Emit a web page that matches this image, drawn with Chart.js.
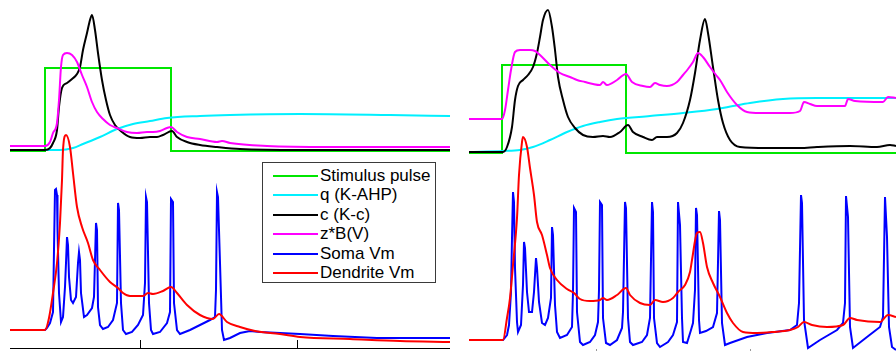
<!DOCTYPE html>
<html>
<head>
<meta charset="utf-8">
<script src="https://cdn.jsdelivr.net/npm/chart.js@4/dist/chart.umd.min.js"></script>
<style>
  html, body { margin: 0; padding: 0; background: #fff; }
  #wrap { position: relative; width: 896px; height: 351px; overflow: hidden; }
  #c { position: absolute; left: 0; top: 0; }
  #legend { position: absolute; left: 262px; top: 162px; width: 172px; height: 119px;
            border: 1px solid #3a3a3a; background: #fff; box-sizing: content-box;
            font-family: "Liberation Sans", Arial, sans-serif; font-size: 17px; color: #000; }
  .row { position: absolute; left: 0; height: 20px; line-height: 20px; white-space: nowrap; }
  .sw { position: absolute; left: 10px; top: 9px; width: 45px; height: 2px; }
  .tx { position: absolute; left: 57px; top: 0; }
</style>
</head>
<body>
<div id="wrap">
  <canvas id="c" width="896" height="351"></canvas>
  <div id="legend"></div>
</div>
<script>
// Series names (legend order)
const seriesNames = ["Stimulus pulse", "q (K-AHP)", "c (K-c)", "z*B(V)", "Soma Vm", "Dendrite Vm"];
const seriesColors = ["#00e600", "#00f0ff", "#000000", "#ff00ff", "#0000ff", "#ff0000"];

// Values: [time, level] (level axis runs downward, two stacked traces per panel)
// ---- Left panel (shorter stimulus) ----
const leftStim = [[10,151],[45,151],[45,68],[171,68],[171,151],[450,151]];
const leftQ = [[10,150],[47,150],[60,150],[73,148],[83,144],[100,137],[117,129],[133,124],[150,121],[167,118],[200,116],[230,115],[300,114],[390,115],[450,116]];
const leftC = [[10,150],[45,150],[50,148],[53,143],[57,130],[59,107],[62,88],[67,83],[72,79],[77,74],[80,67],[83,50],[87,33],[90,20],[92,15],[95,30],[98,53],[102,80],[106,100],[110,115],[115,125],[122,132],[130,137],[140,138],[150,137],[157,137],[163,135],[172,131],[177,137],[187,142],[200,145],[217,147],[240,149],[300,150],[450,150]];
const leftZ = [[10,146],[45,146],[50,142],[53,133],[57,123],[59,100],[61,67],[63,55],[67,53],[72,55],[77,62],[82,75],[87,87],[92,102],[97,112],[103,119],[110,125],[117,128],[127,132],[137,133],[147,132],[153,132],[160,131],[167,128],[171,127],[177,132],[187,137],[200,139],[217,142],[222,141],[230,143],[267,146],[330,147],[450,147]];
const leftSoma = [[10,330],[45,330],[47,328],[50,323],[53,312],[54,250],[55,190],[56,189],[57,195],[57.5,230],[59,293],[61,322],[63,317],[65,287],[66,263],[67,237],[68,245],[69,277],[71,300],[73,303],[76,297],[78,263],[79,252],[80,260],[81,293],[84,317],[87,315],[92,308],[94,297],[95,260],[96,223],[97,230],[98,307],[100,325],[103,329],[108,327],[113,320],[117,303],[118,203],[119,210],[121,303],[123,330],[126,334],[132,332],[138,325],[143,315],[145,283],[146,197],[147,202],[149,303],[151,330],[153,334],[160,332],[167,323],[170,312],[171,199],[173,202],[174,303],[177,330],[180,334],[190,330],[200,325],[210,320],[215,317],[216,290],[217,192],[218,197],[220,263],[222,330],[224,340],[230,338],[240,333],[250,331],[260,332],[280,333],[300,334],[333,336],[377,338],[450,338]];
const leftDend = [[10,330],[45,330],[49,318],[53,293],[57,263],[60,223],[62,180],[63,150],[66,135],[70,147],[73,173],[77,207],[82,227],[88,243],[93,260],[100,270],[110,282],[118,288],[123,293],[130,296],[143,296],[148,293],[153,294],[163,291],[171,287],[177,293],[187,305],[200,315],[213,319],[219,314],[227,322],[240,327],[255,331],[280,334],[300,337],[350,339],[400,341],[450,342]];

// ---- Right panel (longer stimulus) ----
const rightStim = [[469,153],[502,153],[502,65],[626,65],[626,153],[896,153]];
const rightQ = [[469,152],[503,151],[520,150],[533,147],[550,140],[567,132],[583,126],[600,122],[617,119],[650,116],[683,113],[717,109],[733,106],[750,103],[783,99],[817,98],[896,98]];
const rightC = [[469,152],[503,152],[507,147],[512,127],[515,100],[518,86],[523,80],[528,75],[533,67],[537,53],[540,37],[543,20],[548,10],[552,27],[555,50],[558,77],[563,100],[568,117],[575,128],[583,135],[593,137],[603,136],[610,137],[620,132],[628,125],[633,132],[643,137],[652,140],[657,137],[667,137],[677,133],[683,123],[690,100],[695,73],[700,40],[705,19],[708,33],[713,67],[718,100],[723,123],[730,140],[740,147],[767,148],[800,148],[817,147],[850,146],[877,147],[890,145],[896,146]];
const rightZ = [[469,119],[502,119],[505,110],[508,90],[511,70],[515,52],[520,50],[530,50],[535,51],[540,55],[550,65],[560,73],[570,77],[577,80],[585,82],[593,84],[600,85],[603,82],[607,85],[617,80],[626,74],[632,82],[643,86],[650,87],[655,83],[660,85],[667,86],[677,82],[683,75],[688,69],[693,62],[698,53],[703,57],[710,67],[716,75],[720,80],[727,92],[737,105],[747,112],[760,113],[790,113],[800,111],[804,102],[810,104],[817,106],[845,106],[848,99],[855,101],[883,102],[888,97],[896,98]];
const rightSoma = [[469,340],[503,340],[507,335],[509,325],[511,292],[512,238],[513,192],[514,202],[515,268],[517,322],[518,332],[521,325],[523,285],[524,242],[525,248],[527,292],[529,312],[532,312],[534,292],[536,258],[537,268],[539,302],[542,323],[545,325],[548,318],[551,298],[552,227],[553,235],[555,305],[557,332],[560,338],[567,335],[572,327],[573,292],[574,208],[576,212],[577,312],[580,342],[583,345],[590,342],[595,335],[598,322],[599,290],[600,202],[602,205],[603,318],[606,343],[610,345],[617,340],[622,328],[623,312],[625,202],[626,208],[628,318],[630,342],[633,345],[642,342],[647,335],[650,318],[652,202],[653,212],[654,318],[657,343],[660,347],[668,342],[673,335],[677,322],[678,202],[680,225],[682,318],[683,342],[687,343],[691,330],[693,323],[695,290],[696,208],[697,215],[699,320],[700,333],[706,331],[713,327],[717,313],[719,211],[720,220],[722,323],[725,345],[730,343],[747,337],[767,333],[790,330],[797,325],[799,303],[801,195],[802,203],[804,320],[808,348],[820,340],[837,330],[843,323],[845,303],[846,196],[848,217],[850,327],[853,348],[867,337],[880,327],[883,317],[885,197],[887,237],[889,327],[892,347],[896,350]];
const rightDend = [[469,340],[503,340],[507,318],[510,298],[513,265],[517,218],[519,175],[522,142],[523,137],[527,147],[530,168],[534,195],[537,222],[542,235],[547,255],[550,268],[557,280],[567,289],[574,293],[580,299],[590,301],[600,300],[603,298],[607,300],[617,295],[626,288],[630,295],[640,303],[650,305],[655,300],[663,302],[673,298],[678,292],[685,285],[690,272],[692,260],[697,233],[700,232],[703,243],[707,267],[713,283],[720,297],[727,313],[733,323],[743,332],[757,333],[773,332],[790,330],[798,327],[804,322],[812,325],[827,327],[843,325],[850,318],[857,320],[880,322],[888,315],[896,317]];

// Bottom axis of left panel
const axisRange = [10, 450];
const axisLevel = 348;
const axisTicks = [140, 297];
const axisTickTop = 340;
const rightStubTicks = [596, 750];

const toPts = arr => arr.map(p => ({x: p[0], y: p[1]}));
const join = (a, b) => toPts(a).concat([{x: (a[a.length-1][0] + b[0][0]) / 2, y: null}], toPts(b));

const seriesData = [
  join(leftStim, rightStim),
  join(leftQ, rightQ),
  join(leftC, rightC),
  join(leftZ, rightZ),
  join(leftSoma, rightSoma),
  join(leftDend, rightDend)
];
const smooth = [false, true, true, true, false, true];

const axisPlugin = {
  id: 'bottomAxis',
  afterDatasetsDraw(chart) {
    const ctx = chart.ctx, xs = chart.scales.x, ys = chart.scales.y;
    ctx.save();
    ctx.strokeStyle = '#000';
    ctx.lineWidth = 1;
    const yA = Math.round(ys.getPixelForValue(axisLevel)) + 0.5;
    ctx.beginPath();
    ctx.moveTo(xs.getPixelForValue(axisRange[0]), yA);
    ctx.lineTo(xs.getPixelForValue(axisRange[1]), yA);
    axisTicks.forEach(t => {
      const px = Math.round(xs.getPixelForValue(t)) + 0.5;
      ctx.moveTo(px, yA);
      ctx.lineTo(px, ys.getPixelForValue(axisTickTop));
    });
    ctx.stroke();
    ctx.strokeStyle = '#999';
    ctx.beginPath();
    rightStubTicks.forEach(t => {
      const px = Math.round(xs.getPixelForValue(t)) + 0.5;
      ctx.moveTo(px, ys.getPixelForValue(349));
      ctx.lineTo(px, ys.getPixelForValue(351));
    });
    ctx.stroke();
    ctx.restore();
  }
};

const chart = new Chart(document.getElementById('c'), {
  type: 'line',
  data: {
    datasets: seriesNames.map((name, i) => ({
      label: name,
      data: seriesData[i],
      borderColor: seriesColors[i],
      backgroundColor: seriesColors[i],
      borderWidth: 2,
      pointRadius: 0,
      fill: false,
      spanGaps: false,
      tension: 0,
      cubicInterpolationMode: smooth[i] ? 'monotone' : 'default',
      order: seriesNames.length - i
    }))
  },
  options: {
    responsive: false,
    animation: false,
    devicePixelRatio: 1,
    layout: { padding: 0 },
    plugins: { legend: { display: false }, tooltip: { enabled: false } },
    scales: {
      x: { type: 'linear', min: 0, max: 896, display: false },
      y: { type: 'linear', min: 0, max: 351, reverse: true, display: false }
    }
  },
  plugins: [axisPlugin]
});

// HTML legend built from the chart's datasets
const leg = document.getElementById('legend');
const rowCenters = [13, 32, 52, 71, 91, 110];
chart.data.datasets.forEach((ds, i) => {
  const row = document.createElement('div');
  row.className = 'row';
  row.style.top = (rowCenters[i] - 10) + 'px';
  row.style.width = '172px';
  const sw = document.createElement('span');
  sw.className = 'sw';
  sw.style.background = ds.borderColor;
  const tx = document.createElement('span');
  tx.className = 'tx';
  tx.textContent = ds.label;
  row.appendChild(sw);
  row.appendChild(tx);
  leg.appendChild(row);
});
</script>
</body>
</html>
